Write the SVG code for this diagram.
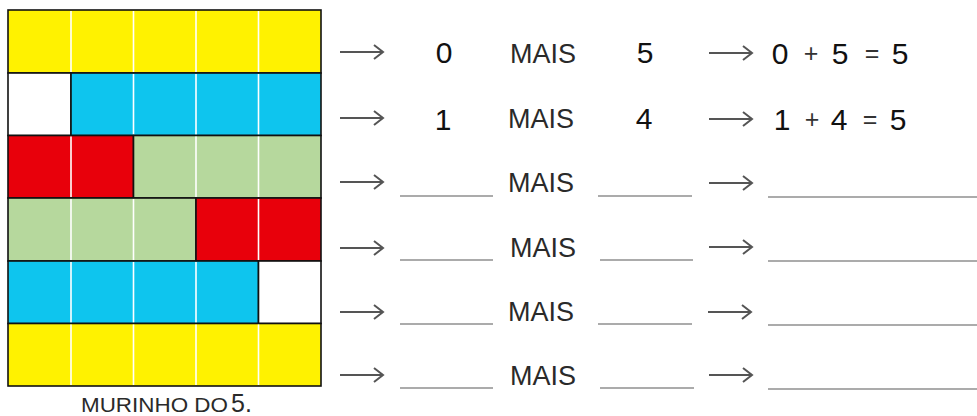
<svg xmlns="http://www.w3.org/2000/svg" width="977" height="416" viewBox="0 0 977 416">
<style>
.blk{stroke:#111;stroke-width:1.6}
.y{fill:#FFF200}.b{fill:#0EC5EE}.r{fill:#E8000B}.g{fill:#B6D89D}.w{fill:#FFFFFF}
.sep{stroke:#FFFFFF;stroke-width:1.6}
.t{font-family:"Liberation Sans",Arial,sans-serif;fill:#2a2a2a}
.mais{font-size:27px}
.num{font-size:30px;fill:#111}
.op{font-size:25px;fill:#333}
.blank{stroke:#ABABAB;stroke-width:2}
.arr{fill:none;stroke:#555;stroke-width:2}
</style>
<defs>
<path id="arrow" class="arr" d="M0,0 H43 M34,-7 L43,0 L34,7"/>
</defs>
<rect width="977" height="416" fill="#FFFFFF"/>
<g id="murinho">
  <g id="row0">
    <rect class="y blk" x="8" y="10" width="313" height="63"/>
    <path class="sep" d="M71,11 V72 M133.5,11 V72 M196,11 V72 M258.5,11 V72"/>
  </g>
  <g id="row1">
    <rect class="w blk" x="8" y="73" width="63" height="62.5"/>
    <rect class="b blk" x="71" y="73" width="250" height="62.5"/>
    <path class="sep" d="M133.5,74 V134.5 M196,74 V134.5 M258.5,74 V134.5"/>
  </g>
  <g id="row2">
    <rect class="r blk" x="8" y="135.5" width="125.5" height="62.5"/>
    <rect class="g blk" x="133.5" y="135.5" width="187.5" height="62.5"/>
    <path class="sep" d="M71,136.5 V197 M196,136.5 V197 M258.5,136.5 V197"/>
  </g>
  <g id="row3">
    <rect class="g blk" x="8" y="198" width="188" height="63"/>
    <rect class="r blk" x="196" y="198" width="125" height="63"/>
    <path class="sep" d="M71,199 V260 M133.5,199 V260 M258.5,199 V260"/>
  </g>
  <g id="row4">
    <rect class="b blk" x="8" y="261" width="250.5" height="62.5"/>
    <rect class="w blk" x="258.5" y="261" width="62.5" height="62.5"/>
    <path class="sep" d="M71,262 V322.5 M133.5,262 V322.5 M196,262 V322.5"/>
  </g>
  <g id="row5">
    <rect class="y blk" x="8" y="323.5" width="313" height="62.5"/>
    <path class="sep" d="M71,324.5 V385 M133.5,324.5 V385 M196,324.5 V385 M258.5,324.5 V385"/>
  </g>
  <text class="t" x="81" y="412" font-size="20" textLength="147" lengthAdjust="spacingAndGlyphs">MURINHO DO</text>
  <text class="t" x="231" y="412" font-size="25" fill="#111">5.</text>
</g>
<g id="line1">
  <use href="#arrow" x="340" y="52"/>
  <text class="t num" x="444" y="63" text-anchor="middle">0</text>
  <text class="t mais" x="510" y="63">MAIS</text>
  <text class="t num" x="645" y="63" text-anchor="middle">5</text>
  <use href="#arrow" x="709" y="53"/>
  <text class="t num" x="780" y="64" text-anchor="middle">0</text>
  <text class="t op" x="811" y="62" text-anchor="middle">+</text>
  <text class="t num" x="840" y="64" text-anchor="middle">5</text>
  <text class="t op" x="872" y="62" text-anchor="middle">=</text>
  <text class="t num" x="900" y="64" text-anchor="middle">5</text>
</g>
<g id="line2">
  <use href="#arrow" x="340" y="118"/>
  <text class="t num" x="443" y="130" text-anchor="middle">1</text>
  <text class="t mais" x="508" y="128">MAIS</text>
  <text class="t num" x="644" y="129" text-anchor="middle">4</text>
  <use href="#arrow" x="709" y="119"/>
  <text class="t num" x="782" y="130" text-anchor="middle">1</text>
  <text class="t op" x="812" y="128" text-anchor="middle">+</text>
  <text class="t num" x="839" y="130" text-anchor="middle">4</text>
  <text class="t op" x="870" y="128" text-anchor="middle">=</text>
  <text class="t num" x="898" y="130" text-anchor="middle">5</text>
</g>
<g id="line3">
  <use href="#arrow" x="340" y="182"/>
  <line class="blank" x1="400" y1="196" x2="493" y2="196"/>
  <text class="t mais" x="508" y="192">MAIS</text>
  <line class="blank" x1="598" y1="196" x2="692" y2="196"/>
  <use href="#arrow" x="709" y="183"/>
  <line class="blank" x1="768" y1="197" x2="977" y2="197"/>
</g>
<g id="line4">
  <use href="#arrow" x="340" y="248"/>
  <line class="blank" x1="400" y1="260" x2="493" y2="260"/>
  <text class="t mais" x="510" y="257">MAIS</text>
  <line class="blank" x1="600" y1="260" x2="693" y2="260"/>
  <use href="#arrow" x="709" y="247"/>
  <line class="blank" x1="768" y1="261" x2="977" y2="261"/>
</g>
<g id="line5">
  <use href="#arrow" x="340" y="312"/>
  <line class="blank" x1="400" y1="324" x2="493" y2="324"/>
  <text class="t mais" x="508" y="321">MAIS</text>
  <line class="blank" x1="598" y1="324" x2="692" y2="324"/>
  <use href="#arrow" x="708" y="312"/>
  <line class="blank" x1="768" y1="325" x2="977" y2="325"/>
</g>
<g id="line6">
  <use href="#arrow" x="340" y="375"/>
  <line class="blank" x1="400" y1="388" x2="493" y2="388"/>
  <text class="t mais" x="510" y="385">MAIS</text>
  <line class="blank" x1="600" y1="388" x2="694" y2="388"/>
  <use href="#arrow" x="709" y="375"/>
  <line class="blank" x1="768" y1="389" x2="977" y2="389"/>
</g>
</svg>
